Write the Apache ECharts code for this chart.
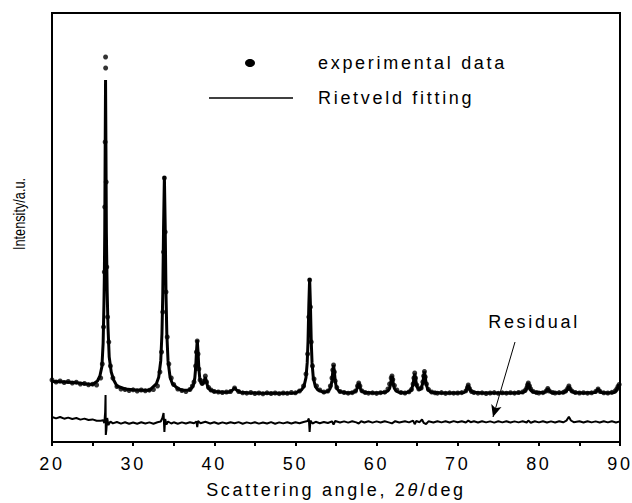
<!DOCTYPE html>
<html><head><meta charset="utf-8">
<script src="https://cdn.jsdelivr.net/npm/echarts@6/dist/echarts.min.js"></script>
<style>html,body{margin:0;padding:0;background:#fff}#c{width:632px;height:503px}#c text{letter-spacing:2.7px}</style>
</head><body><div id="c"></div>
<script>
// 2θ (deg) vs intensity (a.u., arbitrary counts)
const fitData = [[20,605],[21,602],[22,598],[23,592],[24,583],[25,575],[25.6,610],[25.9,660],[26.15,754],[26.3,987],[26.4,1375],[26.45,1650],[26.5,2100],[26.55,2899],[26.6,3620],[26.65,2899],[26.7,2100],[26.8,1500],[26.9,1150],[27.05,850],[27.3,700],[27.6,620],[28,560],[29,530],[30,522],[31,518],[32,517],[32.85,581],[33.15,648],[33.4,811],[33.55,1083],[33.65,1474],[33.75,2154],[33.85,2660],[33.95,2154],[34.05,1474],[34.15,1083],[34.3,811],[34.55,648],[34.85,581],[35.5,535],[36,518],[36.9,520],[37.2,537],[37.45,576],[37.6,641],[37.7,735],[37.8,898],[37.9,1020],[38.0,898],[38.1,735],[38.2,645],[38.35,590],[38.6,578],[38.75,605],[38.9,650],[39.05,600],[39.2,548],[39.5,520],[40,505],[41,497],[41.8,498],[42.2,515],[42.5,540],[42.8,515],[43.2,498],[44,492],[46,488],[48,488],[50,490],[50.75,521],[51.05,557],[51.3,644],[51.45,791],[51.55,1001],[51.65,1367],[51.75,1640],[51.85,1367],[51.95,1001],[52.05,791],[52.2,644],[52.45,557],[52.75,521],[53.5,497],[53.7,499],[54.0,507],[54.25,529],[54.4,564],[54.5,615],[54.6,704],[54.7,770],[54.8,704],[54.9,615],[55.0,564],[55.15,529],[55.4,507],[55.7,499],[56.5,490],[57.0,494],[57.3,502],[57.5,517],[57.6,535],[57.7,566],[57.8,590],[57.9,566],[58.0,535],[58.1,517],[58.3,502],[58.6,494],[60,489],[61.1,498],[61.4,510],[61.6,535],[61.7,566],[61.8,620],[61.9,660],[62.0,620],[62.1,566],[62.2,535],[62.4,510],[62.7,498],[63.5,490],[64.0,502],[64.3,522],[64.5,578],[64.6,639],[64.7,685],[64.8,641],[64.9,582],[65.0,548],[65.3,523],[65.5,537],[65.7,590],[65.8,655],[65.9,704],[66.0,654],[66.1,587],[66.3,527],[66.6,503],[67.0,494],[68,490],[70,490],[70.8,495],[71.0,510],[71.15,535],[71.3,570],[71.45,535],[71.6,510],[71.9,497],[73,490],[75,490],[77,490],[78.0,495],[78.3,508],[78.5,535],[78.6,566],[78.7,590],[78.8,566],[78.9,535],[79.1,508],[79.5,496],[80.7,495],[80.9,510],[81.1,535],[81.3,510],[81.5,495],[82.5,490],[83.1,495],[83.4,510],[83.55,530],[83.7,560],[83.85,530],[84.0,510],[84.3,496],[85.5,490],[86.9,494],[87.1,508],[87.3,530],[87.5,508],[87.7,494],[88.5,490],[89.3,495],[89.5,510],[89.7,535],[89.85,570],[90,560]];

const expData = [[20.0,620],[20.5,600],[21.0,610],[21.5,595],[22.0,605],[22.5,590],[23.0,598],[23.5,580],[24.0,585],[24.5,572],[25.0,578],[25.5,570],[26.0,640],[26.2,780],[26.35,1150],[26.45,1700],[26.5,2350],[26.55,3000],[26.6,3850],[26.61,3740],[26.68,2600],[26.75,1750],[26.85,1250],[27.0,1000],[27.2,760],[27.5,640],[28.0,555],[28.5,530],[29.0,525],[29.5,515],[30.0,522],[30.5,510],[31.0,520],[31.5,512],[32.0,518],[32.5,525],[33.0,560],[33.3,700],[33.5,900],[33.65,1300],[33.75,1900],[33.85,2640],[33.95,2100],[34.05,1500],[34.2,1050],[34.4,780],[34.7,640],[35.0,575],[35.5,530],[36.0,515],[36.5,505],[37.0,525],[37.3,560],[37.5,600],[37.7,760],[37.8,900],[37.9,1010],[38.0,880],[38.1,730],[38.25,620],[38.5,585],[38.75,610],[38.9,660],[39.05,600],[39.3,545],[39.6,520],[40.0,505],[40.5,500],[41.0,495],[41.5,500],[42.0,505],[42.5,540],[43.0,505],[43.5,492],[44.0,488],[44.5,495],[45.0,485],[45.5,490],[46.0,482],[46.5,492],[47.0,485],[47.5,490],[48.0,483],[48.5,490],[49.0,487],[49.5,495],[50.0,492],[50.5,510],[51.0,560],[51.3,680],[51.5,880],[51.65,1250],[51.75,1620],[51.85,1350],[51.95,1000],[52.1,760],[52.3,630],[52.6,560],[53.0,520],[53.5,500],[54.0,510],[54.3,560],[54.5,640],[54.6,720],[54.7,770],[54.8,700],[54.9,610],[55.1,545],[55.5,505],[56.0,495],[56.5,488],[57.0,493],[57.4,510],[57.65,560],[57.8,590],[57.95,560],[58.2,512],[58.6,495],[59.0,488],[59.5,492],[60.0,486],[60.5,493],[61.0,498],[61.4,530],[61.6,580],[61.8,640],[61.9,660],[62.0,625],[62.2,565],[62.5,520],[63.0,495],[63.5,490],[64.0,502],[64.3,525],[64.5,580],[64.6,640],[64.7,690],[64.8,640],[64.95,570],[65.2,530],[65.5,540],[65.7,600],[65.8,660],[65.9,705],[66.0,650],[66.15,580],[66.4,525],[66.8,500],[67.2,492],[67.5,488],[68.0,494],[68.5,486],[69.0,492],[69.5,488],[70.0,490],[70.5,494],[71.0,512],[71.2,545],[71.3,570],[71.45,535],[71.7,505],[72.0,495],[72.5,488],[73.0,492],[73.5,485],[74.0,490],[74.5,494],[75.0,487],[75.5,492],[76.0,488],[76.5,493],[77.0,489],[77.5,495],[78.0,500],[78.3,515],[78.5,540],[78.6,570],[78.7,590],[78.85,560],[79.0,530],[79.3,505],[79.7,495],[80.0,490],[80.5,493],[80.9,510],[81.1,535],[81.3,510],[81.7,495],[82.0,490],[82.5,494],[83.0,497],[83.3,510],[83.55,535],[83.7,560],[83.85,532],[84.1,508],[84.5,495],[85.0,490],[85.5,493],[86.0,488],[86.5,492],[87.0,505],[87.3,530],[87.55,505],[88.0,492],[88.5,490],[89.0,496],[89.4,510],[89.6,530],[89.75,555],[89.9,575]];

const residualData = [[20,250],[20.5,236],[21,250],[21.5,233],[22,244],[22.5,230],[23,240],[23.5,224],[24,234],[24.5,220],[25,226],[25.5,213],[26,212],[26.3,218],[26.45,190],[26.55,300],[26.6,470],[26.63,70],[26.7,120],[26.8,240],[26.95,170],[27.2,205],[27.5,186],[28,200],[28.5,184],[29,198],[29.5,182],[30,195],[30.5,183],[31,197],[31.5,185],[32,196],[32.5,183],[33,198],[33.4,205],[33.6,240],[33.75,290],[33.85,100],[33.95,230],[34.1,175],[34.3,205],[34.7,185],[35,197],[35.5,182],[36,196],[36.5,185],[37,198],[37.5,187],[37.8,205],[37.9,150],[38.0,210],[38.3,188],[38.9,202],[39.5,185],[40,198],[40.5,182],[41,196],[41.5,185],[42,198],[42.5,187],[43,199],[43.5,183],[44,196],[44.5,186],[45,198],[45.5,184],[46,195],[46.5,185],[47,199],[47.5,183],[48,196],[48.5,186],[49,197],[49.5,185],[50,198],[50.5,187],[51,200],[51.5,210],[51.65,235],[51.75,100],[51.85,215],[52.1,185],[52.5,202],[53,188],[53.5,200],[54,190],[54.5,207],[54.7,175],[54.9,210],[55.5,195],[56,206],[56.5,194],[57,207],[57.5,196],[57.8,185],[58.1,207],[58.5,195],[59,208],[59.5,194],[60,206],[60.5,195],[61,207],[61.5,196],[61.9,186],[62.3,208],[62.8,195],[63.5,207],[64,196],[64.5,214],[64.7,178],[64.9,210],[65.3,198],[65.6,225],[65.8,192],[66.1,180],[66.4,207],[67,195],[67.5,208],[68,196],[68.5,207],[69,195],[69.5,209],[70,197],[70.5,208],[71,195],[71.3,214],[71.6,198],[72,207],[72.5,195],[73,208],[73.5,196],[74,206],[74.5,194],[75,207],[75.5,196],[76,208],[76.5,195],[77,206],[77.5,196],[78,207],[78.5,195],[78.7,214],[79,193],[79.5,207],[80,196],[80.5,208],[81,195],[81.5,206],[82,195],[82.5,207],[83,197],[83.4,214],[83.7,252],[83.95,215],[84.3,198],[85,207],[85.5,195],[86,208],[86.5,196],[87,206],[87.5,195],[88,207],[88.5,196],[89,208],[89.5,195],[90,206]];

const xTickLabels = [20,30,40,50,60,70,80,90];
const residualArrow = [[77.06,1000],[74.35,250]];

const LS = 2.7; // letter spacing used by the CSS rule above
const mctx = document.createElement('canvas').getContext('2d');
if (echarts.setPlatformAPI) {
  echarts.setPlatformAPI({
    measureText: function (text, font) {
      mctx.font = font || '12px sans-serif';
      mctx.letterSpacing = LS + 'px';
      return { width: mctx.measureText(text).width };
    }
  });
}

const chart = echarts.init(document.getElementById('c'), null, {renderer:'svg'});
const FONT = '"Liberation Sans", Arial, sans-serif';
chart.setOption({
  animation:false,
  backgroundColor:'#fff',
  grid:{left:52,right:12,top:13,bottom:61,containLabel:false,outerBoundsMode:'none',
    show:true,borderColor:'#000',borderWidth:2,backgroundColor:'transparent'},
  xAxis:{type:'value',min:20,max:90,interval:5,
    axisLine:{lineStyle:{color:'#000',width:2}},
    axisTick:{show:true,inside:false,length:4,lineStyle:{color:'#000',width:2}},
    splitLine:{show:false},
    axisLabel:{color:'#000',fontSize:18,fontFamily:FONT,margin:12,hideOverlap:false,
      formatter:v=>xTickLabels.indexOf(v)>=0?String(v):''},
    name:'Scattering angle, 2{i|θ}/deg',nameLocation:'middle',nameGap:38,
    nameTextStyle:{color:'#000',fontSize:18,fontFamily:FONT,
      rich:{i:{fontStyle:'italic',fontSize:18,fontFamily:FONT,color:'#000'}}}
  },
  yAxis:{type:'value',min:0,max:4290,
    axisLine:{show:true,lineStyle:{color:'#000',width:2}},
    axisTick:{show:false},axisLabel:{show:false},splitLine:{show:false}},
  series:[
    {name:'experimental data',type:'scatter',data:expData,symbol:'circle',symbolSize:5,
      itemStyle:{color:'#000'},silent:true,z:3},
    {name:'Rietveld fitting',type:'line',data:fitData,showSymbol:false,
      lineStyle:{color:'#000',width:3},silent:true,z:4},
    {name:'Residual',type:'line',data:residualData,showSymbol:false,
      lineStyle:{color:'#000',width:2},silent:true,z:4,
      markLine:{silent:true,animation:false,symbol:['none','arrow'],symbolSize:[8,12],
        lineStyle:{color:'#000',width:1,type:'solid'},label:{show:false},
        data:[[{coord:residualArrow[0]},{coord:residualArrow[1]}]]}}
  ],
  graphic:[
    {type:'ellipse',shape:{cx:250,cy:63,rx:5,ry:4},style:{fill:'#000'}},
    {type:'text',x:318,y:63,style:{text:'experimental data',font:'18px '+FONT,fill:'#000',textVerticalAlign:'middle'}},
    {type:'line',shape:{x1:209,y1:98,x2:293,y2:98},style:{stroke:'#000',lineWidth:1.5}},
    {type:'text',x:318,y:98,style:{text:'Rietveld fitting',font:'18px '+FONT,fill:'#000',textVerticalAlign:'middle'}},
    {type:'text',x:534,y:322,style:{text:'Residual',font:'18px '+FONT,fill:'#000',textAlign:'center',textVerticalAlign:'middle'}},
    {type:'text',x:19,y:214,rotation:Math.PI/2,scaleX:0.75,style:{text:'Intensity/a.u.',font:'17px '+FONT,fill:'#000',textAlign:'center',textVerticalAlign:'middle'}}
  ]
});
document.querySelectorAll('#c text').forEach(t=>{ if(t.textContent==='Intensity/a.u.') t.style.letterSpacing='0px'; });
</script></body></html>
